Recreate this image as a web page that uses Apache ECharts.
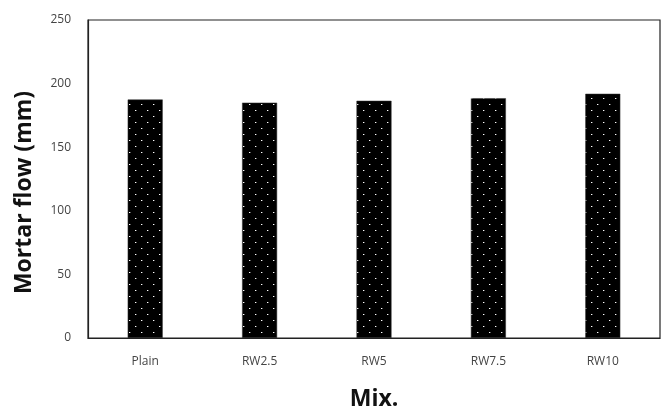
<!DOCTYPE html>
<html>
<head>
<meta charset="utf-8">
<script src="https://cdn.jsdelivr.net/npm/echarts@6/dist/echarts.min.js"></script>
<style>html,body{margin:0;padding:0;background:#fff;overflow:hidden;}#c{width:100vw;height:100vh;}</style>
</head>
<body>
<div id="c"></div>
<script>
const categories = ['Plain', 'RW2.5', 'RW5', 'RW7.5', 'RW10'];
const flowValues = [187.5, 185, 186.5, 188.5, 192];
const yTicks = [0, 50, 100, 150, 200, 250];

const pat = document.createElement('canvas');
pat.width = 12; pat.height = 12;
const g = pat.getContext('2d');
g.fillStyle = '#000'; g.fillRect(0, 0, 12, 12);
g.fillStyle = '#fff';
g.fillRect(3, 2, 1, 1);
g.fillRect(9, 8, 1, 1);
g.fillStyle = 'rgba(255,255,255,0.35)';
g.fillRect(4, 2, 1, 1);
g.fillRect(10, 8, 1, 1);

const chart = echarts.init(document.getElementById('c'), null, {renderer: 'canvas'});
chart.setOption({
  animation: false,
  grid: {left: 88, right: 5, top: 20, bottom: 72, show: true, borderColor: '#222', borderWidth: 1.2},
  xAxis: {
    type: 'category',
    data: categories,
    name: 'Mix.',
    nameLocation: 'middle',
    nameGap: 50,
    nameTextStyle: {fontFamily: 'Open Sans', fontWeight: 'bold', fontSize: 23, color: '#111'},
    axisLine: {lineStyle: {color: '#222', width: 1.2}},
    axisTick: {show: false},
    axisLabel: {fontFamily: 'Open Sans', fontSize: 12, color: '#444', margin: 18}
  },
  yAxis: {
    type: 'value',
    min: yTicks[0],
    max: yTicks[yTicks.length - 1],
    interval: 50,
    name: 'Mortar flow (mm)',
    nameLocation: 'middle',
    nameGap: 52,
    nameTextStyle: {fontFamily: 'Open Sans', fontWeight: 'bold', fontSize: 23, color: '#111', padding: [0, 27, 0, 0]},
    axisLine: {show: true, lineStyle: {color: '#222', width: 1.2}},
    axisTick: {show: false},
    splitLine: {show: false},
    axisLabel: {fontFamily: 'Open Sans', fontSize: 12, color: '#444', margin: 17}
  },
  series: [{
    type: 'bar',
    data: flowValues,
    barWidth: 35,
    itemStyle: {color: {image: pat, repeat: 'repeat'}, borderColor: '#333', borderWidth: 0.5}
  }]
});
</script>
</body>
</html>
